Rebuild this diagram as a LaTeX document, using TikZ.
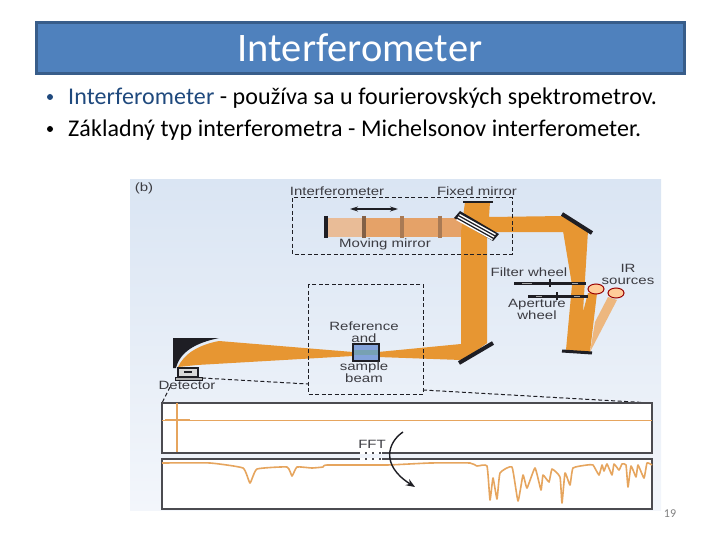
\documentclass[tikz,border=0pt]{standalone}
\usepackage{fontspec}
\setmainfont{Carlito}
\newfontfamily\panelfont[FakeStretch=1.25]{Liberation Sans}
\usetikzlibrary{positioning,arrows.meta}
\definecolor{titleblue}{HTML}{4F81BD}
\definecolor{titleedge}{HTML}{385D8A}
\definecolor{darkblue}{HTML}{1F497D}
\definecolor{paneltop}{HTML}{DAE5F3}
\definecolor{panelbottom}{HTML}{F3F6FB}
\definecolor{beam}{HTML}{E79632}
\definecolor{beammid}{HTML}{E5A268}
\definecolor{beamlight}{HTML}{E9BC97}
\definecolor{beampale}{HTML}{EDB77F}
\definecolor{trace}{HTML}{E6A55E}
\definecolor{ink}{HTML}{1E1E24}
\definecolor{labelgrey}{HTML}{3C3C42}
\tikzset{
  panellabel/.style={font=\panelfont\fontsize{12}{12}\selectfont,text=labelgrey,inner sep=0pt},
  bodytext/.style={font=\fontsize{24}{24}\addfontfeature{LetterSpace=0.4}\selectfont,anchor=base west,inner sep=0pt},
  dashbox/.style={draw=ink,line width=1pt,dash pattern=on 4pt off 2.5pt},
  mirror/.style={draw=ink,line width=4pt},
  wheel/.style={draw=ink,line width=3pt},
  tracebox/.style={fill=white,draw=ink!80,line width=1.3pt},
}
\begin{document}
\begin{tikzpicture}[x=1pt,y=-1pt]
  \useasboundingbox (0,0) rectangle (720,540);
  % slide head
  \node[draw=titleedge,line width=3pt,fill=titleblue,minimum width=648pt,minimum height=51pt,inner sep=0pt] (head) at (360.5,48) {};
  \node[text=white,font=\fontsize{40.5}{40.5}\selectfont,inner sep=0pt] (headtext) at (360,48) {Interferometer};
  % bullets
  \fill[darkblue] (50,97) circle (3pt);
  \fill[black] (50,129) circle (3pt);
  \node[bodytext] (lineone) at (68,105) {\textcolor{darkblue}{Interferometer} - používa sa u fourierovských spektrometrov.};
  \node[bodytext] (linetwo) at (68,137) {Základný typ interferometra - Michelsonov interferometer.};
  % figure panel
  \shade[top color=paneltop,bottom color=panelbottom] (130,180) rectangle (661,510);
  % beams
  \fill[beamlight] (327,218) rectangle (363,237);
  \fill[beammid] (363,218) rectangle (462,237);
  \fill[beam] (465,202) -- (490,202) -- (489,217) -- (564,216) -- (588,232) -- (487,232) -- (487,343) -- (461,362) -- (461,232) -- cycle;
  \fill[beam] (563,231) -- (572,285) -- (566,350) -- (590,352) -- (597,293) -- (588,293) -- (583,312) -- (588,231) -- cycle;
  \fill[beampale] (608,297) -- (617,300) -- (590,352) -- (595,322) -- cycle;
  \fill[beam] (487,343) -- (461,344) -- (378,352) -- (378,357) -- (461,360) -- cycle;
  \fill[ink] (173,338) -- (219,338) .. controls (195,343) and (180,352) .. (176,368) -- (173,368) -- cycle;
  \fill[beam] (219,341) .. controls (198,345) and (184,354) .. (178,367) -- (197,365) -- (353,356) -- (353,352) -- cycle;
  % interferometer arm
  \draw[ink,line width=4pt] (326,216) -- (326,238);
  \foreach \x/\c in {364/ink!50!beammid, 402/ink!30!beammid, 440/ink!30!beammid} {
    \draw[\c,line width=4pt] (\x,216) -- (\x,238);
  }
  \draw[{Stealth[length=8pt,width=5pt]}-{Stealth[length=8pt,width=5pt]},ink,line width=1.2pt] (350,209) -- (398,209);
  % beam splitter
  \fill[ink] (454,218) -- (460,211) -- (499,234) -- (493,241) -- cycle;
  \draw[white,line width=1.4pt] (458,217) -- (494,237);
  \draw[white,line width=1.4pt] (456.5,219.5) -- (492.5,239.5);
  \draw[white,line width=1.4pt] (459.5,214.5) -- (495.5,234.5);
  % mirrors
  \draw[ink,line width=2pt] (463,202) -- (493,202);
  \draw[mirror] (562,214) -- (592,233);
  \draw[ink,line width=3pt] (562,351) -- (592,353);
  \draw[mirror] (459,363) -- (493,343);
  % wheels
  \draw[wheel] (514,283) -- (586,283);
  \draw[wheel] (528,296) -- (588,296);
  \draw[gray!70,line width=0.8pt] (522,283) -- (532,283);
  \draw[gray!70,line width=0.8pt] (572,283) -- (578,283);
  \draw[gray!70,line width=0.8pt] (536,296) -- (542,296);
  \draw[gray!70,line width=0.8pt] (574,296) -- (580,296);
  \draw[ink,line width=1.5pt] (550,279) -- (550,287);
  \draw[ink,line width=1.5pt] (557,292) -- (557,300);
  % sources
  \draw[red!60!black,fill=orange!40!white,line width=1pt] (596,289) ellipse (8pt and 5pt);
  \draw[red!60!black,fill=orange!40!white,line width=1pt] (616,293) ellipse (8pt and 5pt);
  % sample cell
  \draw[ink,line width=1.3pt,fill=cyan!45!blue!50!white] (353,344) rectangle (379,361);
  \fill[gray!65!cyan] (354,350) rectangle (378,355);
  % detector
  \draw[ink,line width=1.2pt,fill=gray!30] (178,368) rectangle (198,377);
  \fill[ink] (184,371) rectangle (192,373);
  \draw[ink,fill=gray!60,line width=1pt] (175,377) rectangle (202,380);
  % dashed boxes
  \draw[dashbox] (292,198) rectangle (512,254);
  \draw[dashbox] (308,284) rectangle (423,394);
  \draw[dashbox] (202,378) -- (308,384);
  \draw[dashbox] (170,387) -- (162,403);
  \draw[dashbox] (423,390) -- (652,403);
  % plots
  \draw[tracebox] (162,403) rectangle (652,453);
  \draw[tracebox] (162,459) rectangle (652,509);
  \draw[trace,line width=0.9pt] (162,420) -- (652,420);
  \draw[trace,line width=1.2pt] (177,403) -- (177,452);
  \draw[trace,line width=1.8pt] (165,420) -- (190,420);
  \draw[trace,line width=1.6pt,line join=round] plot[smooth,tension=0.25] coordinates {(162,463) (210,463) (243,468) (250,483) (257,469) (287,467) (292,476) (297,467) (312,468) (323,467) (327,465) (387,465) (430,463) (470,463) (477,466) (487,466) (490,500) (493,478) (497,499) (500,473) (512,467) (518,501) (523,475) (527,488) (535,468) (541,490) (543,475) (549,482) (552,469) (560,477) (562,503) (565,473) (570,485) (573,468) (587,465) (593,465) (599,475) (602,465) (604,471) (607,464) (612,475) (614,464) (619,470) (622,464) (626,465) (628,487) (631,466) (636,477) (638,465) (644,478) (647,463) (652,465)};
  % fft gap
  \draw[white,line width=2pt,dash pattern=on 5pt off 2pt] (360,453) -- (382,453);
  \draw[white,line width=2pt,dash pattern=on 5pt off 2pt] (360,459) -- (382,459);
  \draw[-{Stealth[length=9pt,width=7pt]},ink,line width=1.4pt] (403,432) .. controls (388,442) and (380,465) .. (415,487);
  % labels
  \foreach \n/\x/\y/\t in {lbint/337/191/Interferometer, lbfix/477/191/Fixed mirror, lbmov/385/244/Moving mirror, lbfil/529/272/Filter wheel, lbir/628/268.5/IR, lbsrc/628/281.5/sources, lbape/537/305/Aperture, lbwhe/537/315.5/wheel, lbref/364/326/Reference, lband/364/338.5/and, lbsam/364/367/sample, lbbea/364/378/beam, lbdet/187/385/Detector, lbfft/372/444/FFT} {
    \node[panellabel] (\n) at (\x,\y) {\t};
  }
  \node[panellabel] (lbb) at (144,188) {(b)};
  \node[text=gray,font=\fontsize{12}{12}\selectfont,inner sep=0pt] (pagenum) at (670,514) {19};
\end{tikzpicture}
\end{document}
